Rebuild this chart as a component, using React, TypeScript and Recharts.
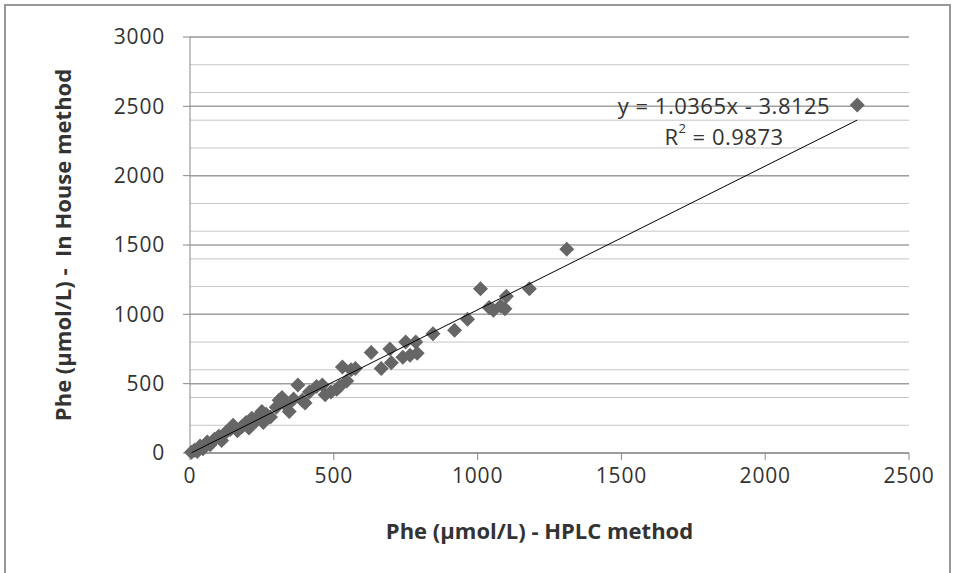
import React from 'react';
import { ScatterChart, Scatter, XAxis, YAxis, CartesianGrid } from 'recharts';

// Phe values (µmol/L)
const hplc = [
  5, 15, 25, 35, 45, 60, 70, 85, 100, 110, 125, 140, 150, 165, 180, 195, 205, 215, 230, 240,
  250, 255, 265, 280, 300, 310, 320, 335, 345, 360, 375, 390, 400, 415, 440, 460, 470, 490, 510, 520,
  530, 545, 560, 575, 630, 665, 695, 700, 740, 750, 765, 785, 790, 845, 920, 965, 1010, 1040, 1055, 1080,
  1095, 1100, 1180, 1310, 2320,
];
const inHouse = [
  5, 20, 10, 50, 30, 80, 60, 100, 120, 90, 150, 170, 200, 160, 190, 220, 180, 250, 230, 270,
  300, 220, 280, 260, 330, 380, 400, 340, 300, 390, 490, 380, 360, 440, 480, 490, 420, 440, 460, 480,
  620, 520, 600, 610, 725, 610, 750, 650, 690, 800, 705, 800, 720, 860, 885, 965, 1185, 1050, 1030, 1060,
  1040, 1130, 1185, 1470, 2510,
];

const xTicks = [0, 500, 1000, 1500, 2000, 2500];
const yTicks = [0, 500, 1000, 1500, 2000, 2500, 3000];
const minorLines = Array.from({ length: 31 }, (_, i) => i * 100);

// linear trendline as printed on the chart
const slope = 1.0365;
const intercept = -3.8125;

const points = hplc.map((x, i) => ({ x, y: inHouse[i] }));
const xMin = Math.min(...hplc);
const xMax = Math.max(...hplc);
const trend = [
  { x: xMin, y: slope * xMin + intercept },
  { x: xMax, y: slope * xMax + intercept },
];

const font = '"Open Sans", sans-serif';
const tickStyle = { fontFamily: font, fontSize: 21, fill: '#333', letterSpacing: 0.8 };
const titleStyle = { fontFamily: font, fontSize: 22, fontWeight: 700, fill: '#333' };
const eqStyle = { fontFamily: font, fontSize: 22, fill: '#333', letterSpacing: 0.5 };

const Diamond = (props: any) => {
  const { cx, cy } = props;
  const r = 7.5;
  return (
    <polygon
      points={`${cx},${cy - r} ${cx + r},${cy} ${cx},${cy + r} ${cx - r},${cy}`}
      fill="#666666"
    />
  );
};

export default function App() {
  return (
    <div style={{ position: 'fixed', left: 0, top: 0, width: 956, height: 573, overflow: 'hidden', background: '#fff' }}>
      <div
        style={{
          position: 'absolute',
          left: 4,
          top: 4,
          width: 947,
          height: 620,
          border: '2px solid #999',
          boxSizing: 'border-box',
        }}
      />
      <div style={{ position: 'absolute', left: 0, top: 0 }}>
        <ScatterChart width={956} height={573} margin={{ top: 37, right: 47, bottom: 60, left: 90 }}>
          <CartesianGrid horizontalValues={minorLines} vertical={false} stroke="#c6c6c6" strokeWidth={1} />
          <CartesianGrid horizontalValues={yTicks} vertical={false} stroke="#a0a0a0" strokeWidth={1.5} />
          <XAxis
            type="number"
            dataKey="x"
            domain={[0, 2500]}
            ticks={xTicks}
            tick={tickStyle}
            tickSize={7}
            tickMargin={8}
            stroke="#888"
            height={60}
            label={{
              value: 'Phe (µmol/L) - HPLC method',
              position: 'bottom',
              offset: 10,
              dx: -10,
              style: titleStyle,
            }}
          />
          <YAxis
            type="number"
            dataKey="y"
            domain={[0, 3000]}
            ticks={yTicks}
            tick={tickStyle}
            tickSize={7}
            tickMargin={18}
            stroke="#888"
            width={100}
            label={{
              content: (p: any) => {
                const vb = p.viewBox || { y: 37, height: 416 };
                const cy = vb.y + vb.height / 2;
                return (
                  <text
                    x={62}
                    y={cy}
                    transform={`rotate(-90, 62, ${cy})`}
                    textAnchor="middle"
                    dominantBaseline="central"
                    style={{ ...titleStyle, whiteSpace: 'pre' }}
                  >
                    {'Phe (µmol/L) -  In House method'}
                  </text>
                );
              },
            }}
          />
          <Scatter data={points} shape={Diamond} isAnimationActive={false} />
          <Scatter
            data={trend}
            line={{ stroke: '#000', strokeWidth: 1 }}
            lineType="joint"
            shape={() => <g />}
            isAnimationActive={false}
          />
          <text x={724} y={105} textAnchor="middle" dominantBaseline="central" style={eqStyle}>
            y = 1.0365x - 3.8125
          </text>
          <text x={724} y={136} textAnchor="middle" dominantBaseline="central" style={eqStyle}>
            R<tspan dy={-8} fontSize={13}>2</tspan>
            <tspan dy={8}> = 0.9873</tspan>
          </text>
        </ScatterChart>
      </div>
    </div>
  );
}
